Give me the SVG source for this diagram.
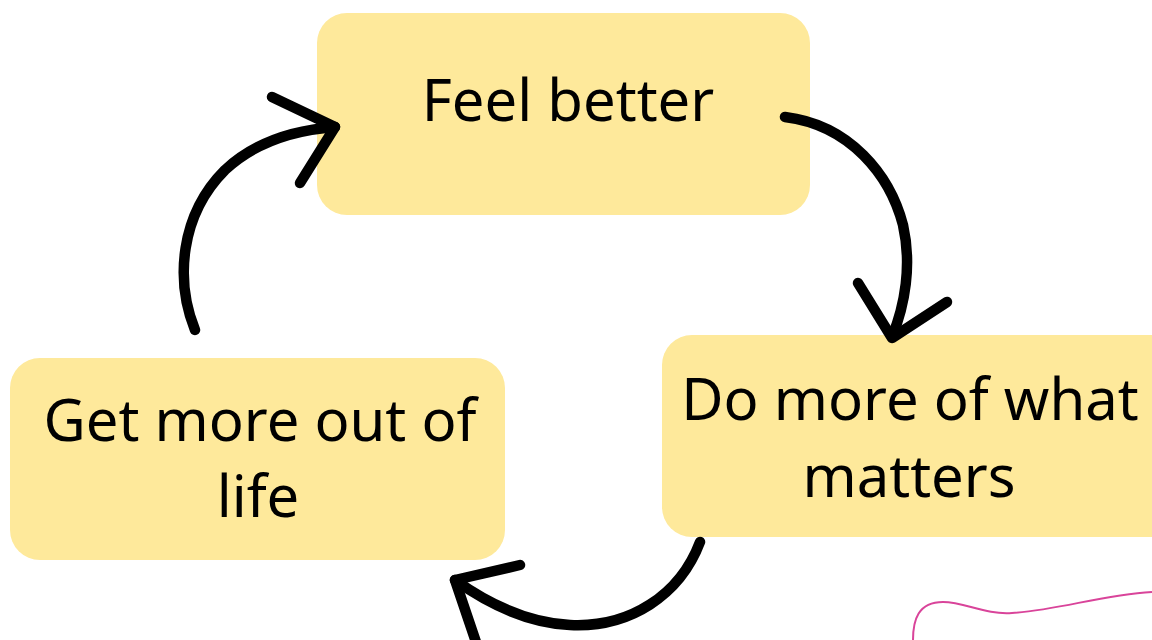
<svg xmlns="http://www.w3.org/2000/svg" width="1152" height="640" viewBox="0 0 1152 640">
<style>
.box{fill:#FEE99B}
.lbl{font-family:"Noto Sans","Open Sans",sans-serif;font-size:58px;fill:#000;text-anchor:middle}
.arr{fill:none;stroke:#000;stroke-width:10.5;stroke-linecap:round;stroke-linejoin:round}
</style>
<rect width="1152" height="640" fill="#fff"/>
<g id="node-feel-better">
<rect class="box" x="317" y="13" width="493" height="202" rx="30"/>
<text class="lbl" x="568" y="121">Feel better</text>
</g>
<g id="node-do-more">
<rect class="box" x="662" y="335" width="520" height="202" rx="30"/>
<text class="lbl" x="910" y="420">Do more of what</text>
<text class="lbl" x="909" y="497">matters</text>
</g>
<g id="node-get-more">
<rect class="box" x="10" y="358" width="495" height="202" rx="30"/>
<text class="lbl" x="260" y="441">Get more out of</text>
<text class="lbl" x="258" y="517">life</text>
</g>
<g id="connectors">
<path class="arr" d="M195 330 C175 280 180 215 225 170 C255 142 295 130 335 127"/>
<path class="arr" d="M272 97 L335 127 L300 183"/>
<path class="arr" d="M785 117 C850 125 890 175 903 225 C912 265 905 305 892 337"/>
<path class="arr" d="M858 283 L892 338 L947 302"/>
<path class="arr" d="M700 542 C680 595 630 628 570 625 C530 623 490 605 455 580"/>
<path class="arr" d="M520 565 L455 580 L478 648"/>
</g>
<path d="M913 640 C913 620 918 602 943 602 C965 602 985 615 1012 613 C1060 610 1100 595 1152 592" fill="none" stroke="#D9449A" stroke-width="2"/>
</svg>
